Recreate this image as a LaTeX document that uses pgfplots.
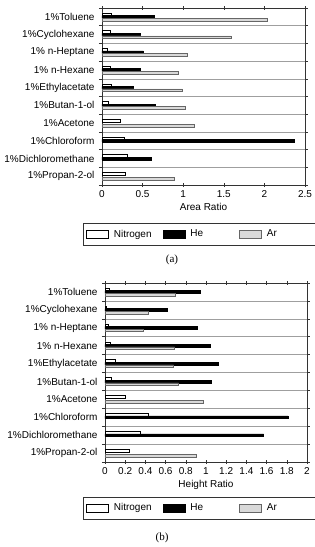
\documentclass[border=0pt]{standalone}
\usepackage{pgfplots}
\pgfplotsset{compat=1.18}
\usepackage{fontspec}
\setmainfont{Liberation Sans}
\newfontfamily\capfont{Liberation Serif}
\definecolor{argray}{gray}{0.85}
\newcommand{\lt}[1]{\makebox[45pt][l]{#1}}
\newcommand{\ltl}[1]{\makebox[56pt][l]{#1}}
\begin{document}
\begin{tikzpicture}
\useasboundingbox (0,0) rectangle (314pt,-547pt);
\pgfplotsset{
  mybars/.style={
    xbar, scale only axis, width=203pt, height=177pt,
    y dir=reverse, ymin=-0.5, ymax=9.5,
    ytick={0,...,9},
    yticklabels={1\%Toluene,1\%Cyclohexane,1\% n-Heptane,1\% n-Hexane,1\%Ethylacetate,1\%Butan-1-ol,1\%Acetone,1\%Chloroform,1\%Dichloromethane,1\%Propan-2-ol},
    minor ytick={-0.5,0.5,...,9.5},
    yminorgrids=true,
    minor grid style={gray!75, line width=0.5pt},
    major y tick style={draw=none},
    minor tick length=3pt,
    ytick align=outside,
    xtick align=center,
    major tick length=4pt,
    axis line style={black!80, line width=0.6pt},
    tick style={black!80, line width=0.5pt},
    bar width=2.6pt,
    font=\fontsize{10}{12}\selectfont,
    tick label style={font=\fontsize{10}{12}\selectfont},
    /pgf/number format/assume math mode=true,
    xlabel style={font=\fontsize{10}{12}\selectfont, yshift=1pt},
    clip=false,
    legend columns=3,
    legend cell align=left,
    legend style={draw=black!80, line width=0.6pt, anchor=north west,
      inner xsep=3pt, inner ysep=4.5pt,
      nodes={font=\fontsize{10}{12}\selectfont},
      /tikz/every odd column/.append style={column sep=3pt},
      /tikz/every even column/.append style={column sep=2pt}},
  },
  nstyle/.style={draw=black, fill=white, line width=0.5pt, bar shift=2.6pt,
    legend image code/.code={\draw[draw=black, fill=white, line width=0.6pt] (0pt,-4pt) rectangle (22pt,4pt);}},
  hstyle/.style={draw=black, fill=black, line width=0.5pt, bar shift=0pt,
    legend image code/.code={\draw[draw=black, fill=black] (0pt,-4pt) rectangle (22pt,4pt);}},
  astyle/.style={draw=black!60, fill=argray, line width=0.5pt, bar shift=-2.6pt,
    legend image code/.code={\draw[draw=black!60, fill=argray, line width=0.6pt] (0pt,-4pt) rectangle (22pt,4pt);}},
}
% (a) Area ratio
\begin{axis}[mybars, at={(102pt,-8pt)}, anchor=north west,
  xmin=0, xmax=2.5, xtick={0,0.5,1,1.5,2,2.5},
  xticklabels={0,0.5,1,1.5,2,2.5},
  xlabel={Area Ratio},
  legend style={at={(-0.094,-0.215)}}]
\addplot[nstyle] coordinates {(0.11,0) (0.10,1) (0.06,2) (0.10,3) (0.11,4) (0.08,5) (0.23,6) (0.27,7) (0.31,8) (0.29,9)};
\addplot[hstyle] coordinates {(0.64,0) (0.47,1) (0.51,2) (0.47,3) (0.38,4) (0.65,5) (2.37,7) (0.61,8)};
\addplot[astyle] coordinates {(2.04,0) (1.59,1) (1.05,2) (0.94,3) (0.99,4) (1.03,5) (1.13,6) (0.89,9)};
\legend{\lt{Nitrogen},\lt{He},\ltl{Ar}}
\end{axis}
\node[font=\capfont\fontsize{11}{13}\selectfont] at (172pt,-260pt) {(a)};
% (b) Height ratio
\begin{axis}[mybars, at={(105pt,-283pt)}, anchor=north west, width=202pt, height=179pt,
  xmin=0, xmax=2, xtick={0,0.2,...,2.01},
  xticklabels={0,0.2,0.4,0.6,0.8,1,1.2,1.4,1.6,1.8,2},
  xlabel={Height Ratio},
  legend style={at={(-0.109,-0.195)}}]
\addplot[nstyle] coordinates {(0.04,0) (0.013,1) (0.03,2) (0.05,3) (0.10,4) (0.06,5) (0.20,6) (0.43,7) (0.35,8) (0.24,9)};
\addplot[hstyle] coordinates {(0.94,0) (0.62,1) (0.91,2) (1.04,3) (1.12,4) (1.05,5) (1.81,7) (1.57,8)};
\addplot[astyle] coordinates {(0.70,0) (0.43,1) (0.38,2) (0.69,3) (0.68,4) (0.73,5) (0.97,6) (0.90,9)};
\legend{\lt{Nitrogen},\lt{He},\ltl{Ar}}
\end{axis}
\node[font=\capfont\fontsize{11}{13}\selectfont] at (162pt,-538pt) {(b)};
\end{tikzpicture}
\end{document}
